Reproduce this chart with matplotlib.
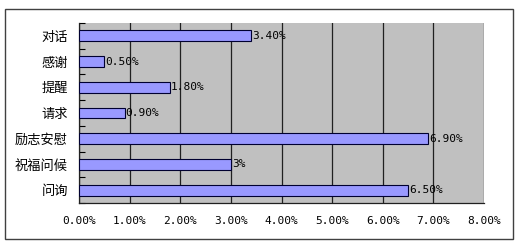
import numpy as np
import matplotlib.pyplot as plt
from matplotlib.patches import Rectangle

categories = ["对话", "感谢", "提醒", "请求", "励志安慰", "祝福问候", "问询"]
values = [3.40, 0.50, 1.80, 0.90, 6.90, 3.00, 6.50]
value_labels = ["3.40%", "0.50%", "1.80%", "0.90%", "6.90%", "3%", "6.50%"]
xticks = [0, 1, 2, 3, 4, 5, 6, 7, 8]
xtick_labels = ["%.2f%%" % t for t in xticks]

W, H = 520, 246
fig = plt.figure(figsize=(W / 100, H / 100), dpi=100)
fig.patch.set_facecolor("white")

# outer chart border
fig.patches.append(Rectangle((5 / W, 1 - 239 / H), 508 / W, 230 / H,
                             transform=fig.transFigure, fill=False,
                             edgecolor="#404040", linewidth=1.0))

ax = fig.add_axes([79 / W, 1 - 203 / H, 405 / W, 180 / H])
ax.set_facecolor("#C0C0C0")

y = np.arange(len(categories))[::-1]
ax.barh(y, values, height=0.42, color="#9999FF", edgecolor="#000030",
        linewidth=0.8, zorder=3)
for yi, v, lab in zip(y, values, value_labels):
    ax.text(v + 0.02, yi, lab, va="center", ha="left", fontsize=8,
            family="DejaVu Sans Mono", zorder=4)

ax.set_xlim(0, 8)
ax.set_ylim(-0.5, len(categories) - 0.5)
ax.set_xticks(xticks)
ax.set_xticklabels(xtick_labels, family="DejaVu Sans Mono", fontsize=8)
ax.set_yticks(y)
ax.set_yticklabels(categories, family=["Noto Sans CJK SC", "DejaVu Sans"],
                   fontsize=9.5)
ax.tick_params(axis="y", length=0, pad=8)
ax.tick_params(axis="x", length=0, pad=9)
ax.set_yticks(np.arange(len(categories) + 1) - 0.5, minor=True)
ax.tick_params(axis="y", which="minor", direction="in", length=4, width=0.8)
ax.grid(axis="x", color="#202020", linewidth=0.9, zorder=1)
ax.set_axisbelow(True)

for side in ["top", "right"]:
    ax.spines[side].set_visible(False)
for side in ["left", "bottom"]:
    ax.spines[side].set_color("#202020")
    ax.spines[side].set_linewidth(0.9)

fig.savefig("out.png", dpi=100)
